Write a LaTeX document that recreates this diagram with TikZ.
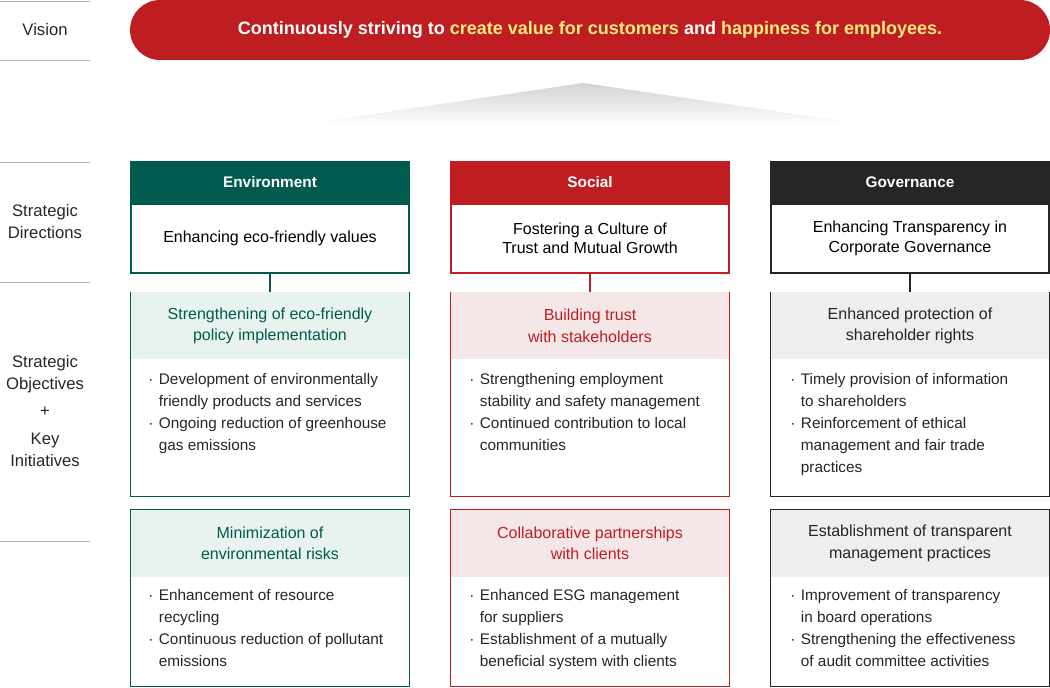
\documentclass[tikz,border=0pt]{standalone}
\usepackage{fontspec}
\setmainfont{Liberation Sans}
\usetikzlibrary{positioning}
\definecolor{envgreen}{HTML}{005A4E}
\definecolor{socred}{HTML}{BE1E22}
\definecolor{govblack}{HTML}{262626}
\definecolor{envlight}{HTML}{E8F3F0}
\definecolor{soclight}{HTML}{F5E7E7}
\definecolor{govlight}{HTML}{EEEEEE}
\definecolor{hilite}{HTML}{FAEB7F}
\definecolor{rulegray}{HTML}{B4B4B4}
\tikzset{
  head/.style={draw=#1, fill=#1, line width=1.5pt, minimum width=208.5pt, minimum height=30pt, inner sep=0pt, text=white, font=\fontsize{11.5}{14}\selectfont\bfseries},
  dirbox/.style={draw=#1, line width=1.5pt, fill=white, minimum width=208.5pt, minimum height=51.75pt, inner sep=0pt, align=center, font=\fontsize{12}{14.5}\selectfont},
  objbox/.style={draw=#1, line width=0.7pt, fill=white, minimum width=209.25pt, inner sep=0pt},
  objtitle/.style={minimum width=208.5pt, minimum height=50.25pt, inner sep=0pt, align=center, font=\fontsize{12}{16}\selectfont},
  item/.style={anchor=north west, inner sep=0pt, align=left, font=\fontsize{11.5}{16.5}\selectfont, text=govblack},
  sidelabel/.style={align=center, font=\fontsize{12.5}{16.5}\selectfont, text=govblack},
  sideline/.style={draw=rulegray, line width=0.6pt}
}
\newcommand{\bul}{\makebox[8pt][l]{\textperiodcentered}}
\begin{document}
\begin{tikzpicture}[x=0.75pt, y=-0.75pt]
\useasboundingbox (0,0) rectangle (1050,688);
% side labels and rules
\foreach \y in {1,60,162,282,541} \draw[sideline] (0,\y) -- (90,\y);
\node[sidelabel] (lvis) at (45,30) {Vision};
\node[sidelabel] (ldir) at (45,222) {Strategic\\Directions};
\node[sidelabel] (lobj) at (45,411) {Strategic\\Objectives\\[4pt]+\\[4pt]Key\\Initiatives};
% vision
\node[fill=socred, rounded corners=22.5pt, minimum width=690pt, minimum height=45pt, inner sep=0pt, text=white,
      font=\fontsize{13.5}{16}\selectfont\bfseries] (vision) at (590,30)
  {Continuously striving to \textcolor{hilite}{create value for customers} and \textcolor{hilite}{happiness for employees.}};
\shade[top color=gray!35, bottom color=white] (583,83) -- (870,125) -- (300,125) -- cycle;
% directions
\node[head=envgreen] (envh) at (270,182) {Environment};
\node[head=socred]   (soch) at (590,182) {Social};
\node[head=govblack] (govh) at (910,182) {Governance};
\node[dirbox=envgreen, below=0pt of envh] (envd) {Enhancing eco-friendly values};
\node[dirbox=socred, below=0pt of soch] (socd) {Fostering a Culture of\\Trust and Mutual Growth};
\node[dirbox=govblack, below=0pt of govh] (govd) {Enhancing Transparency in\\Corporate Governance};
% objective boxes
\node[objbox=envgreen, minimum height=153pt] (env1) at (270,394) {};
\node[objbox=socred,   minimum height=153pt] (soc1) at (590,394) {};
\node[objbox=govblack, minimum height=153pt] (gov1) at (910,394) {};
\node[objbox=envgreen, minimum height=132.5pt] (env2) at (270,598) {};
\node[objbox=socred,   minimum height=132.5pt] (soc2) at (590,598) {};
\node[objbox=govblack, minimum height=132.5pt] (gov2) at (910,598) {};
\draw[envgreen, line width=1.5pt] (envd.south) -- (env1.north);
\draw[socred, line width=1.5pt] (socd.south) -- (soc1.north);
\draw[govblack, line width=1.5pt] (govd.south) -- (gov1.north);
% objective titles
\node[objtitle, fill=envlight, text=envgreen, below=0.4pt of env1.north] (env1t) {Strengthening of eco-friendly\\policy implementation};
\node[objtitle, fill=soclight, text=socred, below=0.4pt of soc1.north] (soc1t) {Building trust\\with stakeholders};
\node[objtitle, fill=govlight, text=govblack, below=0.4pt of gov1.north] (gov1t) {Enhanced protection of\\shareholder rights};
\node[objtitle, fill=envlight, text=envgreen, below=0.4pt of env2.north] (env2t) {Minimization of\\environmental risks};
\node[objtitle, fill=soclight, text=socred, below=0.4pt of soc2.north] (soc2t) {Collaborative partnerships\\with clients};
\node[objtitle, fill=govlight, text=govblack, below=0.4pt of gov2.north] (gov2t) {Establishment of transparent\\management practices};
% key initiatives
\node[item] (env1i) at (148,373) {\bul Development of environmentally\\\hspace*{8pt}friendly products and services\\\bul Ongoing reduction of greenhouse\\\hspace*{8pt}gas emissions};
\node[item] (soc1i) at (469,373) {\bul Strengthening employment\\\hspace*{8pt}stability and safety management\\\bul Continued contribution to local\\\hspace*{8pt}communities};
\node[item] (gov1i) at (790,373) {\bul Timely provision of information\\\hspace*{8pt}to shareholders\\\bul Reinforcement of ethical\\\hspace*{8pt}management and fair trade\\\hspace*{8pt}practices};
\node[item] (env2i) at (148,589) {\bul Enhancement of resource\\\hspace*{8pt}recycling\\\bul Continuous reduction of pollutant\\\hspace*{8pt}emissions};
\node[item] (soc2i) at (469,589) {\bul Enhanced ESG management\\\hspace*{8pt}for suppliers\\\bul Establishment of a mutually\\\hspace*{8pt}beneficial system with clients};
\node[item] (gov2i) at (790,589) {\bul Improvement of transparency\\\hspace*{8pt}in board operations\\\bul Strengthening the effectiveness\\\hspace*{8pt}of audit committee activities};
\end{tikzpicture}
\end{document}
